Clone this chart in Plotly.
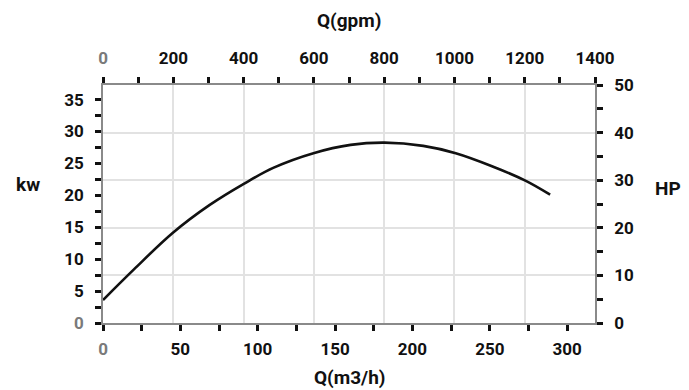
import plotly.graph_objects as go

# Data
q_m3h = [0, 20, 45, 69, 91, 110, 136, 160, 182, 207, 228, 251, 273, 289]
power_kw = [3.6, 8.4, 14.1, 18.5, 21.8, 24.3, 26.6, 27.9, 28.25, 27.75, 26.6, 24.6, 22.3, 20.1]

bottom_ticks = [0, 50, 100, 150, 200, 250, 300]
top_ticks = [0, 200, 400, 600, 800, 1000, 1200, 1400]
left_ticks = [0, 5, 10, 15, 20, 25, 30, 35]
right_ticks = [0, 10, 20, 30, 40, 50]

X_MAX_M3H = 318.0
X_MAX_GPM = 1400
Y_MAX_HP = 50
Y_MAX_KW = 50 * 0.7457

FONT = "Roboto"
GRAY0 = "#7a7a7a"
AXIS_LINE = "#8a8a8a"
GRID = "#e2e2e2"


def lab(v):
    s = str(v)
    if v == 0:
        return f"<span style='color:{GRAY0}'>{s}</span>"
    return s


def minor_vals(step, vmax):
    out = []
    v = step / 2
    while v < vmax:
        out.append(v)
        v += step
    return out


fig = go.Figure()
fig.add_trace(go.Scatter(x=q_m3h, y=power_kw, mode="lines",
                         line=dict(color="#111111", width=2.6, shape="spline", smoothing=1.0),
                         xaxis="x", yaxis="y", showlegend=False, hoverinfo="skip"))
# invisible trace to anchor secondary axes
fig.add_trace(go.Scatter(x=[0, X_MAX_GPM], y=[0, Y_MAX_HP], mode="markers",
                         marker=dict(opacity=0), xaxis="x2", yaxis="y2",
                         showlegend=False, hoverinfo="skip"))

tickfont = dict(family=FONT, size=17, color="#111111", weight="bold")
common = dict(ticks="outside", ticklen=6, tickwidth=2.5, tickcolor="#111111",
              showline=True, linecolor=AXIS_LINE, linewidth=1.5, zeroline=False,
              tickfont=tickfont, tickmode="array")
mn = dict(ticks="outside", ticklen=6, tickwidth=2.5, tickcolor="#111111")

# the page body has an 8px margin; size the figure so the plot lands where the reference has it
fig.update_layout(
    width=681, height=382,
    margin=dict(l=95, r=94, t=77, b=67),
    paper_bgcolor="white", plot_bgcolor="white",
    xaxis=dict(range=[0, X_MAX_M3H], tickvals=bottom_ticks,
               ticktext=[lab(v) for v in bottom_ticks], showgrid=False,
               minor=dict(tickvals=minor_vals(50, X_MAX_M3H), **mn),
               ticklabelstandoff=4, **common),
    xaxis2=dict(range=[0, X_MAX_GPM], overlaying="x", side="top", anchor="y",
                tickvals=top_ticks, ticktext=[lab(v) for v in top_ticks],
                showgrid=True, gridcolor=GRID, gridwidth=1.5,
                minor=dict(tickvals=minor_vals(200, X_MAX_GPM), **mn),
                ticklabelstandoff=6, **common),
    yaxis=dict(range=[0, Y_MAX_KW], tickvals=left_ticks,
               ticktext=[lab(v) for v in left_ticks], showgrid=False,
               minor=dict(tickvals=minor_vals(5, Y_MAX_KW), **mn),
               ticklabelstandoff=8, **common),
    yaxis2=dict(range=[0, Y_MAX_HP], overlaying="y", side="right", anchor="x",
                tickvals=right_ticks, ticktext=[str(v) for v in right_ticks],
                showgrid=True, gridcolor=GRID, gridwidth=1.5,
                minor=dict(tickvals=minor_vals(10, Y_MAX_HP), **mn),
                ticklabelstandoff=8, **common),
)

title_font = dict(family=FONT, size=19, color="#111111", weight="bold")
anns = [
    dict(text="Q(gpm)", x=0.5, y=1.273),
    dict(text="Q(m3/h)", x=0.5, y=-0.231),
    dict(text="kw", x=-0.152, y=0.58),
    dict(text="HP", x=1.148, y=0.567),
]
for a in anns:
    fig.add_annotation(text=a["text"], x=a["x"], y=a["y"], xref="paper", yref="paper",
                       showarrow=False, font=title_font, xanchor="center", yanchor="middle")

fig.write_html("out.html")
